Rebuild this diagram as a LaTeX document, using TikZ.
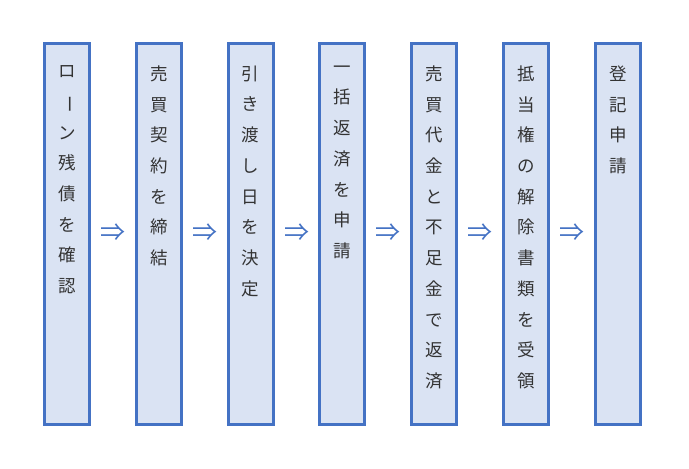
\documentclass[tikz,border=0pt]{standalone}
\usepackage{fontspec}
\newfontfamily\jp{Noto Sans CJK JP}
\usetikzlibrary{positioning, calc}
\definecolor{boxline}{RGB}{68,114,196}
\definecolor{boxfill}{RGB}{218,227,243}
\tikzset{stepbox/.style={rectangle, draw=boxline, fill=boxfill, line width=3pt,
    inner sep=0pt, minimum width=45pt, minimum height=381pt},
  steptext/.style={inner sep=0pt, align=center, text=black!80,
    font=\jp\fontsize{17.5}{30.7}\selectfont,
    execute at begin node={\rule{0pt}{16pt}}},
  flow/.style={inner sep=0pt, text=boxline, font=\jp\fontsize{25}{25}\selectfont}}
\newcommand{\vbar}{\rotatebox[origin=c]{-90}{ー}}

\begin{document}
\begin{tikzpicture}
    \useasboundingbox (0pt,0pt) rectangle (689pt,-469pt);
    \node[stepbox] (b-1) at (67pt,-234pt) {};
    \node[stepbox, right=43.8pt of b-1] (b-2) {};
    \node[stepbox, right=43.8pt of b-2] (b-3) {};
    \node[stepbox, right=43.8pt of b-3] (b-4) {};
    \node[stepbox, right=43.8pt of b-4] (b-5) {};
    \node[stepbox, right=43.8pt of b-5] (b-6) {};
    \node[stepbox, right=43.8pt of b-6] (b-7) {};

    \node[steptext, below=23.5pt of b-1.north] (t-1) {ロ\\\vbar\\ン\\残\\債\\を\\確\\認};
    \node[steptext, below=23.5pt of b-2.north] (t-2) {売\\買\\契\\約\\を\\締\\結};
    \node[steptext, below=23.5pt of b-3.north] (t-3) {引\\き\\渡\\し\\日\\を\\決\\定};
    \node[steptext, below=23.5pt of b-4.north] (t-4) {一\\括\\返\\済\\を\\申\\請};
    \node[steptext, below=23.5pt of b-5.north] (t-5) {売\\買\\代\\金\\と\\不\\足\\金\\で\\返\\済};
    \node[steptext, below=23.5pt of b-6.north] (t-6) {抵\\当\\権\\の\\解\\除\\書\\類\\を\\受\\領};
    \node[steptext, below=23.5pt of b-7.north] (t-7) {登\\記\\申\\請};

    \foreach \i/\j in {1/2, 2/3, 3/4, 4/5, 5/6, 6/7}
      \node[flow] (a-\i) at ($(b-\i.east)!0.5!(b-\j.west) + (0,1pt)$) {⇒};
\end{tikzpicture}
\end{document}
